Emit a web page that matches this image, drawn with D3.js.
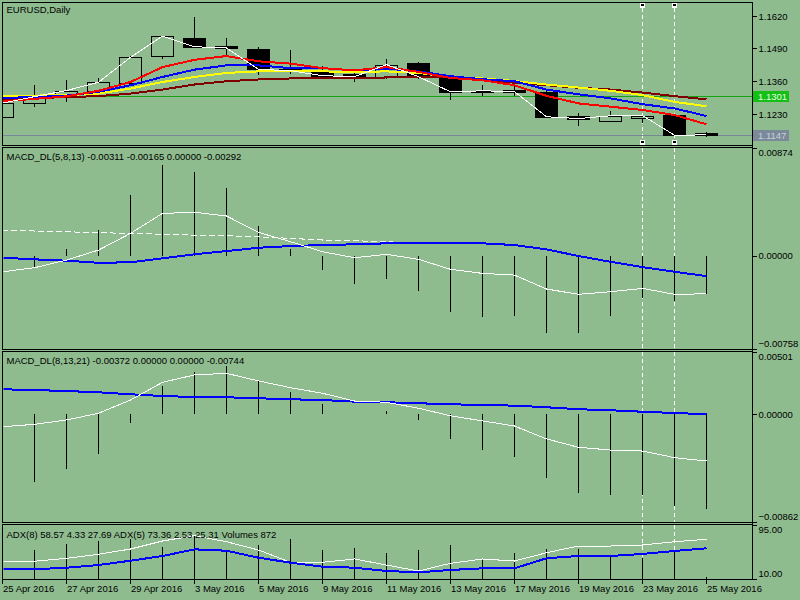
<!DOCTYPE html>
<html><head><meta charset="utf-8">
<script src="https://cdn.jsdelivr.net/npm/d3@7"></script>
<style>
body{margin:0;background:#8FBC8F;}
svg{display:block;}
</style>
</head><body>
<svg id="chart" width="800" height="600"></svg>
<script>
// ---------- DATA ----------
const dates = ["25 Apr 2016","26 Apr 2016","27 Apr 2016","28 Apr 2016","29 Apr 2016","2 May 2016","3 May 2016","4 May 2016","5 May 2016","6 May 2016","9 May 2016","10 May 2016","11 May 2016","12 May 2016","13 May 2016","16 May 2016","17 May 2016","18 May 2016","19 May 2016","20 May 2016","23 May 2016","24 May 2016","25 May 2016"];
const open  = [1.1219,1.1273,1.1299,1.1323,1.1352,1.1462,1.1532,1.1500,1.1489,1.1407,1.1399,1.1388,1.1375,1.1432,1.1380,1.1316,1.1327,1.1318,1.1221,1.1204,1.1213,1.1225,1.1153];
const high  = [1.1276,1.1344,1.1364,1.1371,1.1462,1.1539,1.1616,1.1531,1.1495,1.1482,1.1420,1.1410,1.1449,1.1438,1.1382,1.1344,1.1351,1.1322,1.1235,1.1242,1.1228,1.1228,1.1160];
const low   = [1.1215,1.1259,1.1276,1.1305,1.1350,1.1449,1.1497,1.1462,1.1384,1.1388,1.1375,1.1357,1.1369,1.1370,1.1285,1.1301,1.1301,1.1215,1.1183,1.1200,1.1194,1.1146,1.1138];
const close = [1.1273,1.1299,1.1323,1.1356,1.1455,1.1539,1.1497,1.1492,1.1407,1.1402,1.1382,1.1378,1.1426,1.1378,1.1318,1.1322,1.1319,1.1219,1.1212,1.1223,1.1224,1.1146,1.1147];

const maRed    = [1.1280,1.1290,1.1300,1.1322,1.1357,1.1416,1.1445,1.1460,1.1439,1.1430,1.1412,1.1403,1.1416,1.1397,1.1373,1.1364,1.1344,1.1302,1.1272,1.1259,1.1246,1.1226,1.1189];
const maBlue   = [1.1294,1.1297,1.1303,1.1318,1.1344,1.1377,1.1406,1.1423,1.1423,1.1412,1.1412,1.1403,1.1410,1.1399,1.1380,1.1368,1.1360,1.1327,1.1308,1.1292,1.1269,1.1252,1.1222];
const maYellow = [1.1303,1.1303,1.1305,1.1311,1.1331,1.1357,1.1377,1.1393,1.1399,1.1399,1.1399,1.1397,1.1399,1.1393,1.1377,1.1371,1.1361,1.1347,1.1335,1.1322,1.1305,1.1278,1.1261];
const maMaroon = [1.1290,1.1293,1.1297,1.1301,1.1311,1.1327,1.1347,1.1360,1.1367,1.1371,1.1371,1.1371,1.1375,1.1375,1.1375,1.1365,1.1354,1.1344,1.1334,1.1327,1.1315,1.1301,1.1288];

const bidLevel = 1.1147;
const refLevel = 1.1301;

const macd1Hist   = [-0.00030,-0.00098,0.00051,0.00208,0.00492,0.00736,0.00676,0.00546,0.00240,0.00054,-0.00117,-0.00233,-0.00190,-0.00285,-0.00455,-0.00496,-0.00488,-0.00626,-0.00626,-0.00488,-0.00342,-0.00366,-0.00311];
const macd1Main   = [-0.00131,-0.00098,-0.00036,0.00045,0.00181,0.00343,0.00352,0.00322,0.00189,0.00113,0.00032,-0.00017,0.00011,-0.00030,-0.00111,-0.00144,-0.00158,-0.00271,-0.00314,-0.00293,-0.00266,-0.00314,-0.00310];
const macd1Signal = [-0.00017,-0.00030,-0.00041,-0.00058,-0.00054,-0.00022,0.00011,0.00037,0.00064,0.00078,0.00086,0.00092,0.00100,0.00105,0.00105,0.00100,0.00086,0.00051,-0.00003,-0.00050,-0.00093,-0.00131,-0.00166];
const macd1Slow   = [0.00205,0.00200,0.00194,0.00186,0.00181,0.00173,0.00167,0.00162,0.00153,0.00140,0.00127,0.00121,0.00113,0.00102,0.00097,null,null,null,null,null,null,null,null];

const macd2Hist   = [-0.00560,-0.00539,-0.00439,-0.00319,-0.00066,0.00229,0.00338,0.00389,0.00269,0.00183,0.00084,0.00000,0.00030,-0.00044,-0.00196,-0.00285,-0.00338,-0.00507,-0.00627,-0.00646,-0.00646,-0.00731,-0.00758];
const macd2Main   = [-0.00098,-0.00079,-0.00044,0.00010,0.00116,0.00258,0.00317,0.00330,0.00269,0.00215,0.00170,0.00108,0.00098,0.00050,-0.00010,-0.00052,-0.00092,-0.00196,-0.00263,-0.00285,-0.00293,-0.00346,-0.00373];
const macd2Signal = [0.00202,0.00196,0.00188,0.00178,0.00162,0.00148,0.00140,0.00138,0.00130,0.00122,0.00116,0.00103,0.00098,0.00090,0.00082,0.00076,0.00071,0.00058,0.00042,0.00034,0.00022,0.00012,0.00002];

const adx8    = [25.3,25.3,27.8,32.0,38.8,46.2,56.7,54.5,43.5,35.7,29.4,27.8,22.6,20.5,24.2,26.8,26.8,42.6,46.2,46.2,49.4,54.1,58.3];
const adx5    = [37.9,37.9,42.6,48.9,57.2,69.8,78.2,68.7,55.6,36.3,36.3,41.5,32.0,22.6,34.7,41.5,38.3,51.4,61.9,61.9,63.5,68.7,72.5];
const volumes = [50.0,55.6,65.1,69.8,73.0,60.8,79.3,55.6,63.5,73.0,55.6,58.8,50.5,55.6,63.5,39.9,50.9,57.2,57.2,46.2,43.1,54.1,12.7];

const priceTicks = [1.1620,1.1490,1.1360,1.1230];
const macd1Ticks = [0.00874,0.00000,-0.00758];
const macd2Ticks = [0.00501,0.00000,-0.00862];
const adxTicks   = [95.00,10.00];
const markedDates = ["23 May 2016","24 May 2016"];

const titleText = "EURUSD,Daily";
const macd1Text = "MACD_DL(5,8,13) -0.00311 -0.00165 0.00000 -0.00292";
const macd2Text = "MACD_DL(8,13,21) -0.00372 0.00000 0.00000 -0.00744";
const adxText   = "ADX(8) 58.57 4.33 27.69 ADX(5) 73.36 2.53 25.31 Volumes 872";

// ---------- LAYOUT ----------
const BG = "#8FBC8F";
const FONT = "'Liberation Sans', Arial, sans-serif";
const FS = "9.5px";
const xL = 2.5, xR = 752.5;
const panels = [
  {top:2.5,   bottom:145.5},
  {top:147.5, bottom:349.5},
  {top:351.5, bottom:522.5},
  {top:524.5, bottom:579.5}
];

const svg = d3.select("#chart");
svg.append("rect").attr("width",800).attr("height",600).attr("fill",BG);

const idx = d3.range(dates.length);
const x = d3.scalePoint().domain(idx).range([2, 706]);
const yMain = d3.scaleLinear().domain([1.1230, 1.1620]).range([114, 15.7]);
const yM1 = d3.scaleLinear().domain([-0.00758, 0.00874]).range([349, 148]);
const yM2 = d3.scaleLinear().domain([-0.00862, 0.00501]).range([522, 352]);
const yAdx = d3.scaleLinear().domain([10, 95]).range([579, 525]);

const defs = svg.append("defs");
panels.forEach((p,i)=>{
  const cx = i===0 ? 3 : 3.6;
  defs.append("clipPath").attr("id","clip"+i).append("rect")
    .attr("x",cx).attr("y",p.top+0.5).attr("width",xR-cx).attr("height",p.bottom-p.top-1);
});
const layers = panels.map((p,i)=>svg.append("g").attr("clip-path",`url(#clip${i})`));

// vertical dashed markers (background)
const markIdx = markedDates.map(d=>dates.indexOf(d));
markIdx.forEach(i=>{
  const xx = x(i)+0.5;
  panels.forEach((p,k)=>{
    layers[k].append("line").attr("x1",xx).attr("x2",xx)
      .attr("y1", k===0 ? 8 : p.top).attr("y2", k===0 ? 140 : p.bottom)
      .attr("stroke","#fff").attr("stroke-width",1).attr("stroke-dasharray","4,3")
      .attr("shape-rendering","crispEdges");
  });
});

// ---------- MAIN PANEL ----------
const L0 = layers[0];
L0.append("line").attr("x1",xL).attr("x2",xR).attr("y1",Math.round(yMain(refLevel))+0.5).attr("y2",Math.round(yMain(refLevel))+0.5)
  .attr("stroke","#17a317").attr("shape-rendering","crispEdges");
L0.append("line").attr("x1",xL).attr("x2",xR).attr("y1",Math.round(yMain(bidLevel))+0.5).attr("y2",Math.round(yMain(bidLevel))+0.5)
  .attr("stroke","#778899").attr("shape-rendering","crispEdges");

idx.forEach(i=>{
  const cx = x(i);
  L0.append("line").attr("x1",cx+0.5).attr("x2",cx+0.5)
    .attr("y1",yMain(high[i])).attr("y2",yMain(low[i]))
    .attr("stroke","#000").attr("shape-rendering","crispEdges");
  const yt = Math.round(yMain(Math.max(open[i],close[i])));
  const yb = Math.round(yMain(Math.min(open[i],close[i])));
  L0.append("rect").attr("x",cx-10.5).attr("width",22)
    .attr("y",yt+0.5).attr("height",Math.max(yb-yt,1))
    .attr("fill", close[i] < open[i] ? "#000" : BG)
    .attr("stroke","#000").attr("shape-rendering","crispEdges");
});

function drawLine(layer, data, yS, color, w, dash){
  const line = d3.line().defined(d=>d!=null).x((d,i)=>x(i)+0.5).y(d=>yS(d));
  const p = layer.append("path").datum(data).attr("d",line)
    .attr("fill","none").attr("stroke",color).attr("stroke-width",w)
    .attr("shape-rendering","crispEdges");
  if(dash) p.attr("stroke-dasharray",dash);
  return p;
}
drawLine(L0, maMaroon, yMain, "#800000", 2);
drawLine(L0, maYellow, yMain, "#ffff00", 2);
drawLine(L0, maBlue,   yMain, "#0000ff", 2);
drawLine(L0, maRed,    yMain, "#ff0000", 2);
drawLine(L0, close,    yMain, "#ffffff", 1);

// ---------- MACD 1 ----------
const L1 = layers[1];
idx.forEach(i=>{
  L1.append("line").attr("x1",x(i)+0.5).attr("x2",x(i)+0.5)
    .attr("y1",yM1(0)).attr("y2",yM1(macd1Hist[i]))
    .attr("stroke","#000").attr("stroke-width",1.5).attr("shape-rendering","crispEdges");
});
drawLine(L1, macd1Slow, yM1, "#ffffff", 1, "6,3");
drawLine(L1, macd1Signal, yM1, "#0000ff", 2);
drawLine(L1, macd1Main, yM1, "#ffffff", 1);

// ---------- MACD 2 ----------
const L2 = layers[2];
idx.forEach(i=>{
  L2.append("line").attr("x1",x(i)+0.5).attr("x2",x(i)+0.5)
    .attr("y1",yM2(0)).attr("y2",yM2(macd2Hist[i]))
    .attr("stroke","#000").attr("stroke-width",1.5).attr("shape-rendering","crispEdges");
});
drawLine(L2, macd2Signal, yM2, "#0000ff", 2);
drawLine(L2, macd2Main, yM2, "#ffffff", 1);

// ---------- ADX / Volumes ----------
const L3 = layers[3];
idx.forEach(i=>{
  L3.append("line").attr("x1",x(i)+0.5).attr("x2",x(i)+0.5)
    .attr("y1",yAdx(10)).attr("y2",yAdx(volumes[i]))
    .attr("stroke","#000").attr("stroke-width",1.5).attr("shape-rendering","crispEdges");
});
drawLine(L3, adx5, yAdx, "#ffffff", 1);
drawLine(L3, adx8, yAdx, "#0000ff", 2);

// ---------- FRAMES ----------
panels.forEach(p=>{
  svg.append("rect").attr("x",xL).attr("y",p.top).attr("width",xR-xL).attr("height",p.bottom-p.top)
    .attr("fill","none").attr("stroke","#000").attr("shape-rendering","crispEdges");
});
svg.append("line").attr("x1",xR).attr("x2",xR).attr("y1",panels[0].top).attr("y2",panels[3].bottom)
  .attr("stroke","#000").attr("shape-rendering","crispEdges");

markIdx.forEach(i=>{
  [5, 142.5].forEach(cy=>{
    svg.append("rect").attr("x",x(i)-2).attr("y",cy-2.5).attr("width",5).attr("height",5)
      .attr("fill","#fff").attr("shape-rendering","crispEdges");
    svg.append("rect").attr("x",x(i)-1).attr("y",cy-1.5).attr("width",3).attr("height",2)
      .attr("fill","#000").attr("shape-rendering","crispEdges");
  });
});

// ---------- AXES ----------
function styleAxis(g){
  g.select(".domain").remove();
  g.selectAll(".tick line").attr("stroke","#000").attr("shape-rendering","crispEdges");
  g.selectAll(".tick text").attr("fill","#000").style("font-family",FONT).style("font-size",FS);
}
function rightAxis(scale, ticks, fmt, extremes){
  const g = svg.append("g").attr("transform",`translate(${xR},0)`)
    .call(d3.axisRight(scale).tickValues(ticks).tickSize(4).tickPadding(2).tickFormat(fmt));
  styleAxis(g);
  if(extremes){
    g.selectAll(".tick text").attr("dy",(d,i)=> i===0 ? "0.75em" : (i===ticks.length-1 ? "-0.25em" : "0.35em"));
  } else {
    g.selectAll(".tick text").attr("dy","0.35em");
  }
  return g;
}
rightAxis(yMain, priceTicks, d3.format(".4f"), false);
rightAxis(yM1, macd1Ticks, d3.format(".5f"), true);
rightAxis(yM2, macd2Ticks, d3.format(".5f"), true);
rightAxis(yAdx, adxTicks, d3.format(".2f"), true);

function priceBox(level, fill, textFill){
  const yy = Math.round(yMain(level))+0.5;
  svg.append("rect").attr("x",753).attr("y",yy-5.5).attr("width",36).attr("height",11).attr("fill",fill);
  svg.append("text").attr("x",758).attr("y",yy).attr("dy","0.35em").text(d3.format(".4f")(level))
    .attr("fill",textFill).style("font-family",FONT).style("font-size",FS);
}
priceBox(refLevel, "#14c014", "#e6ffe6");
priceBox(bidLevel, "#7b8a9b", "#c9d0d8");

const gx = svg.append("g").attr("transform",`translate(0,${panels[3].bottom})`)
  .call(d3.axisBottom(x).tickValues(idx.filter(i=>i%2===0)).tickSize(4).tickFormat(i=>dates[i]));
styleAxis(gx);
gx.selectAll(".tick text").attr("text-anchor","start").attr("x",0.5).attr("y",12.3).attr("dy","0");

// ---------- LABELS ----------
function label(t, yb){
  svg.append("text").attr("x",6.5).attr("y",yb).text(t)
    .attr("fill","#000").style("font-family",FONT).style("font-size",FS);
}
label(titleText, 13.3);
label(macd1Text, 160.3);
label(macd2Text, 364.3);
label(adxText, 537.5);
</script>
</body></html>
